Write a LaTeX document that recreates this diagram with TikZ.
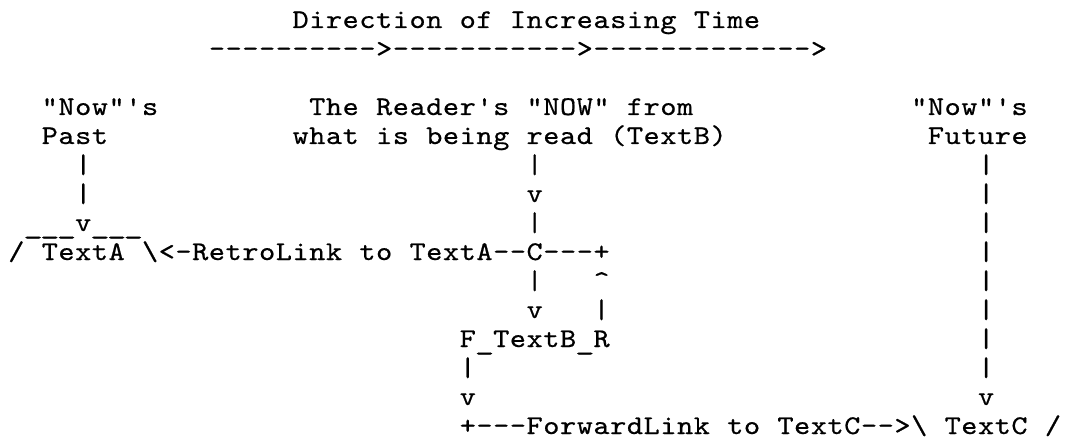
\documentclass[tikz,border=0pt]{standalone}
\font\courfont="[lmmono10-regular]:extend=1.14;embolden=0.6" at 27pt
\newlength\cw
\setlength\cw{16.72pt}
\def\ascii#1{\asciiA#1\relax}
\def\asciiA#1{\ifx\relax#1\else\makebox[\cw][c]{#1}\expandafter\asciiA\fi}
\def\us{\raisebox{-3pt}{\scalebox{1.2}[1]{\_}}}
\tikzset{txt/.style={anchor=base west, inner sep=0pt, outer sep=0pt, font=\courfont}}
\begin{document}
\begin{tikzpicture}[x=16.72pt, y=-29.0pt]
\useasboundingbox[fill=white] (-8pt,-413pt) rectangle (1057pt,28pt);
% title
\node[txt] (title) at (17,0) {\ascii{Direction~of~Increasing~Time}};
\node[txt] (arrow) at (12,1) {\ascii{---------->----------->------------->}};
% headings
\node[txt] (pastA) at (2,3) {\ascii{"Now"'s}};
\node[txt] (pastB) at (2,4) {\ascii{Past}};
\node[txt] (nowA) at (18,3) {\ascii{The~Reader's~"NOW"~from}};
\node[txt] (nowB) at (17,4) {\ascii{what~is~being~read~(TextB)}};
\node[txt] (futA) at (54,3) {\ascii{"Now"'s}};
\node[txt] (futB) at (55,4) {\ascii{Future}};
% past column
\node[txt] (p5) at (4,5) {\ascii{|}};
\node[txt] (p6) at (4,6) {\ascii{|}};
\node[txt] (p7) at (1,7) {\ascii{\us\us\us v\us\us\us}};
\node[txt] (retro) at (0,8) {\ascii{/~TextA~\textbackslash<-RetroLink~to~TextA--C---+}};
% now column
\node[txt] (n5) at (31,5) {\ascii{|}};
\node[txt] (n6) at (31,6) {\ascii{v}};
\node[txt] (n7) at (31,7) {\ascii{|}};
\node[txt] (n9) at (31,9) {\ascii{|}};
\node[txt] (n10) at (31,10) {\ascii{v}};
\node[txt] (r9) at (35,9) {\ascii{\textasciicircum}};
\node[txt] (r10) at (35,10) {\ascii{|}};
\node[txt] (ftb) at (27,11) {\ascii{F\us TextB\us R}};
\node[txt] (f12) at (27,12) {\ascii{|}};
\node[txt] (f13) at (27,13) {\ascii{v}};
\node[txt] (fwd) at (27,14) {\ascii{+---ForwardLink~to~TextC-->\textbackslash~TextC~/}};
% future column
\foreach \r in {5,...,12} {\node[txt] (u\r) at (58,\r) {\ascii{|}};}
\node[txt] (u13) at (58,13) {\ascii{v}};
\end{tikzpicture}
\end{document}
